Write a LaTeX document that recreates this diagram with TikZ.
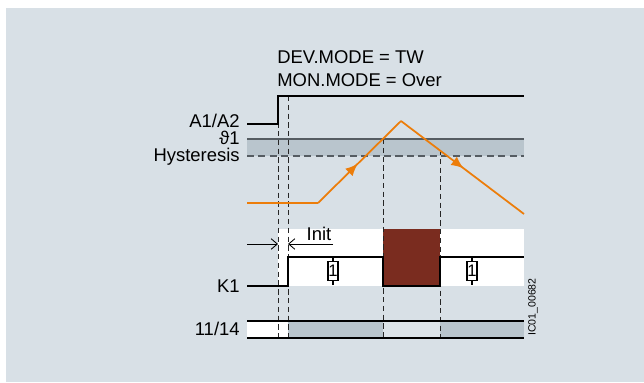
\documentclass[tikz,border=0pt]{standalone}
\usepackage{fontspec}
\setmainfont{Liberation Sans}
\usetikzlibrary{arrows.meta,decorations.markings}
\definecolor{panel}{RGB}{216,224,230}
\definecolor{band}{RGB}{185,197,205}
\definecolor{contact}{RGB}{221,228,233}
\definecolor{relaybrown}{RGB}{122,44,31}
\definecolor{templine}{RGB}{236,125,10}
\definecolor{edgegray}{RGB}{85,92,98}

\begin{document}
\begin{tikzpicture}[x=0.02cm,y=-0.02cm,>=Latex,every node/.style={font=\fontsize{10.5}{12}\selectfont},
  signal/.style={line width=1.1pt,black},
  guide/.style={dash pattern=on 3pt off 2pt,line width=0.5pt,black!85},
  temp/.style={line width=1pt,templine},
  midarrow/.style={postaction={decorate},decoration={markings,mark=at position #1 with {\arrow{Latex[length=7pt,width=6pt]}}}},
  dimline/.style={-{Straight Barb[length=3.5pt,width=6pt]},line width=0.5pt},
  siglabel/.style={anchor=east,inner sep=0pt},
  relaybox/.style={draw,line width=0.8pt,fill=white,minimum width=0.2cm,minimum height=0.38cm,inner sep=0pt,font=\fontsize{9.5}{10}\selectfont}]
\useasboundingbox (0,0) rectangle (644,382);
\fill[panel] (6,8) rectangle (644,382);
% mode settings
\node[anchor=west,inner sep=0pt] (devmode) at (277,57) {DEV.MODE = TW};
\node[anchor=west,inner sep=0pt] (monmode) at (277,80) {MON.MODE = Over};
% fills
\fill[band] (247,139) rectangle (524,156);
\fill[white] (278,229) rectangle (524,286);
\fill[relaybrown] (383,229) rectangle (440,286);
\fill[white] (247,321) rectangle (288,338);
\fill[band] (288,321) rectangle (383,338);
\fill[contact] (383,321) rectangle (440,338);
\fill[band] (440,321) rectangle (524,338);
% threshold lines
\draw[edgegray,line width=0.7pt] (247,139) -- (524,139);
\draw[edgegray,line width=0.7pt,dash pattern=on 4pt off 2.5pt] (247,156) -- (524,156);
% guides
\draw[guide] (278,96) -- (278,338);
\draw[guide] (288,96) -- (288,338);
\draw[guide] (383,139) -- (383,338);
\draw[guide] (440,150) -- (440,338);
% temperature
\coordinate (rise) at (318,203);
\coordinate (peak) at (401,121);
\draw[temp] (247,203) -- (rise);
\draw[temp,midarrow=0.48] (rise) -- (peak);
\draw[temp,midarrow=0.51] (peak) -- (524,214);
% signals
\draw[signal] (247,124) -- (278,124) -- (278,96) -- (524,96);
\draw[signal] (247,286) -- (288,286) -- (288,257) -- (383,257) -- (383,286) -- (440,286) -- (440,257) -- (524,257);
\draw[signal,line width=0.8pt] (247,321) -- (524,321);
\draw[signal,line width=0.8pt] (247,338) -- (524,338);
% relay symbols
\node[relaybox] (relayA) at (333,271) {1};
\node[relaybox] (relayB) at (472,271) {1};
\draw[line width=0.8pt] (333,257) -- (relayA.north) (relayA.south) -- (333,285);
\draw[line width=0.8pt] (472,257) -- (relayB.north) (relayB.south) -- (472,285);
% init time
\draw[dimline] (247,244) -- (278,244);
\draw[dimline] (333,244) -- (288,244);
\node (init) at (319,234) {Init};
% labels
\node[siglabel] (a1a2) at (240,121) {A1/A2};
\node[siglabel] (theta) at (240,137.5) {ϑ1};
\node[siglabel] (hyst) at (240,157) {Hysteresis};
\node[siglabel] (k1) at (240,286) {K1};
\node[siglabel] (contacts) at (240,329) {11/14};
\node[rotate=90,font=\fontsize{6}{7}\selectfont] (figid) at (533,307) {IC01\_00682};
\end{tikzpicture}
\end{document}
